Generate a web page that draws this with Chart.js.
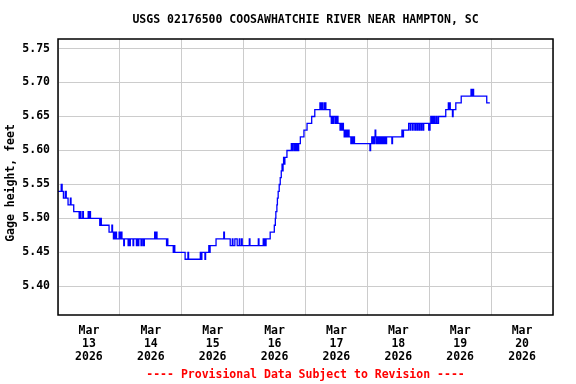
<!DOCTYPE html>
<html><head><meta charset="utf-8">
<script src="https://cdn.jsdelivr.net/npm/chart.js@4/dist/chart.umd.min.js"></script>
<style>html,body{margin:0;padding:0;background:#fff}canvas{display:block}</style>
</head><body>
<canvas id="c" width="576" height="384"></canvas>
<script>
const titleText = 'USGS 02176500 COOSAWHATCHIE RIVER NEAR HAMPTON, SC';
const yAxisTitle = 'Gage height, feet';
const footerText = '---- Provisional Data Subject to Revision ----';
const monthLabel = 'Mar';
const yearLabel = '2026';
const dayLabels = ['13','14','15','16','17','18','19','20'];
const yTickValues = [5.40,5.45,5.50,5.55,5.60,5.65,5.70,5.75];

// hours since Mar 13 00:00 at which the gage reading changes, and the reading (ft)
const hours = [0,1.25,1.6,2.1,2.8,3.2,3.9,4.8,5.05,6.1,8.2,8.5,8.9,9.6,9.85,11.7,12.0,12.3,12.6,16.2,16.5,16.8,19.8,20.9,21.15,21.5,21.8,22.2,22.45,22.7,23.7,24.2,24.5,24.8,25.5,25.75,27.2,27.45,27.8,28.05,29.1,29.35,30.4,30.65,31.1,31.35,32.2,32.45,33.0,33.5,37.5,37.75,38.0,38.4,42.1,42.35,42.6,44.7,45.0,45.3,49.3,50.4,50.65,55.2,55.45,55.8,57.0,57.25,58.5,58.75,59.0,61.3,64.3,64.55,66.8,67.6,67.85,68.6,69.5,70.3,70.55,71.2,71.45,74.2,74.45,77.7,77.95,79.6,79.85,80.2,80.45,80.7,82.3,83.9,84.3,84.5,84.9,85.1,85.4,85.8,86.2,86.6,86.9,87.1,87.3,87.5,87.8,88.0,88.8,90.5,91.0,91.25,91.8,92.05,92.5,92.75,93.1,93.35,94.0,95.4,96.6,98.4,99.6,101.6,101.85,102.3,102.8,103.4,103.9,105.5,106.0,106.3,106.6,106.9,107.5,107.8,108.1,108.4,108.6,109.4,109.7,110.0,110.3,110.7,111.0,111.3,111.6,112.0,112.3,112.6,112.9,113.6,113.85,114.3,114.55,115.0,121.0,121.25,121.7,122.0,122.5,122.75,123.0,123.25,123.6,123.85,124.3,124.55,125.0,125.3,125.7,126.0,126.5,126.8,127.2,127.45,129.5,129.75,133.4,133.65,134.0,136.0,136.6,136.85,137.5,137.75,138.4,138.65,139.2,139.45,140.0,140.25,140.8,141.05,141.6,141.85,143.8,144.3,144.6,144.85,145.3,145.55,146.0,146.25,146.8,147.05,147.6,150.4,151.4,151.65,151.9,152.15,153.0,153.25,154.3,156.4,160.2,160.45,160.8,161.2,166.3,167.5];
const gage = [5.54,5.55,5.54,5.53,5.54,5.53,5.52,5.53,5.52,5.51,5.50,5.51,5.50,5.51,5.50,5.51,5.50,5.51,5.50,5.49,5.50,5.49,5.48,5.49,5.48,5.47,5.48,5.47,5.48,5.47,5.48,5.47,5.48,5.47,5.46,5.47,5.46,5.47,5.46,5.47,5.46,5.47,5.46,5.47,5.46,5.47,5.46,5.47,5.46,5.47,5.48,5.47,5.48,5.47,5.46,5.47,5.46,5.45,5.46,5.45,5.44,5.45,5.44,5.45,5.44,5.45,5.44,5.45,5.46,5.45,5.46,5.47,5.48,5.47,5.46,5.47,5.46,5.47,5.46,5.47,5.46,5.47,5.46,5.47,5.46,5.47,5.46,5.47,5.46,5.47,5.46,5.47,5.48,5.49,5.50,5.51,5.52,5.53,5.54,5.55,5.56,5.57,5.58,5.57,5.58,5.59,5.58,5.59,5.60,5.61,5.60,5.61,5.60,5.61,5.60,5.61,5.60,5.61,5.62,5.63,5.64,5.65,5.66,5.67,5.66,5.67,5.66,5.67,5.66,5.65,5.64,5.65,5.64,5.65,5.64,5.65,5.64,5.65,5.64,5.63,5.64,5.63,5.64,5.63,5.62,5.63,5.62,5.63,5.62,5.63,5.62,5.61,5.62,5.61,5.62,5.61,5.60,5.61,5.62,5.61,5.62,5.61,5.63,5.62,5.61,5.62,5.61,5.62,5.61,5.62,5.61,5.62,5.61,5.62,5.61,5.62,5.61,5.62,5.63,5.62,5.63,5.64,5.63,5.64,5.63,5.64,5.63,5.64,5.63,5.64,5.63,5.64,5.63,5.64,5.63,5.64,5.63,5.64,5.65,5.64,5.65,5.64,5.65,5.64,5.65,5.64,5.65,5.66,5.67,5.66,5.67,5.66,5.65,5.66,5.67,5.68,5.69,5.68,5.69,5.68,5.67,5.67];

const FONT = "'DejaVu Sans Mono', monospace";
const points = hours.map((h, i) => ({x: h, y: gage[i]}));

const decor = {
  id: 'decor',
  afterDatasetsDraw(chart) {
    const {ctx, chartArea: a} = chart;
    ctx.save();
    ctx.strokeStyle = '#000';
    ctx.lineWidth = 1.5;
    ctx.strokeRect(a.left, a.top, a.right - a.left, a.bottom - a.top);
    ctx.restore();
  },
  afterDraw(chart) {
    const {ctx, chartArea: a} = chart;
    const cx = (a.left + a.right) / 2;
    ctx.save();
    ctx.font = 'bold 11.5px ' + FONT;
    ctx.textAlign = 'center';
    ctx.textBaseline = 'middle';
    ctx.fillStyle = '#000';
    ctx.fillText(titleText, cx, 20);
    ctx.save();
    ctx.translate(11.5, 183);
    ctx.rotate(-Math.PI / 2);
    ctx.fillText(yAxisTitle, 0, 0);
    ctx.restore();
    ctx.fillStyle = '#ff0000';
    ctx.fillText(footerText, cx, 375);
    ctx.restore();
  }
};

new Chart(document.getElementById('c'), {
  type: 'line',
  data: {
    datasets: [{
      data: points,
      stepped: true,
      borderColor: '#0000ff',
      borderWidth: 1.3,
      pointRadius: 0,
      fill: false
    }]
  },
  options: {
    responsive: false,
    animation: false,
    devicePixelRatio: 1,
    layout: {padding: {left: 0, right: 23, top: 39, bottom: 0}},
    plugins: {legend: {display: false}, tooltip: {enabled: false}, title: {display: false}},
    scales: {
      x: {
        type: 'linear',
        min: 0,
        max: 192,
        afterBuildTicks: (s) => { const t = []; for (let i = 0; i <= 16; i++) t.push({value: i * 12}); s.ticks = t; },
        afterFit: (s) => { s.height = 69; },
        grid: {
          drawTicks: false,
          color: (c) => (c.tick && c.tick.value % 24 === 0) ? '#cccccc' : 'rgba(0,0,0,0)',
          lineWidth: 1
        },
        border: {display: false},
        ticks: {
          autoSkip: false,
          maxRotation: 0,
          minRotation: 0,
          padding: 10,
          color: '#000',
          font: {family: FONT, size: 11.5, weight: 'bold', lineHeight: 1.12},
          callback: (v) => (v % 24 === 12) ? [monthLabel, dayLabels[(v - 12) / 24], yearLabel] : ''
        }
      },
      y: {
        type: 'linear',
        min: 5.358,
        max: 5.764,
        afterBuildTicks: (s) => { s.ticks = yTickValues.map(v => ({value: v})); },
        afterFit: (s) => { s.width = 58; },
        grid: {drawTicks: false, color: '#cccccc', lineWidth: 1},
        border: {display: false},
        ticks: {
          padding: 8,
          color: '#000',
          font: {family: FONT, size: 11.5, weight: 'bold'},
          callback: (v) => Number(v).toFixed(2)
        }
      }
    }
  },
  plugins: [decor]
});
</script>
</body></html>
